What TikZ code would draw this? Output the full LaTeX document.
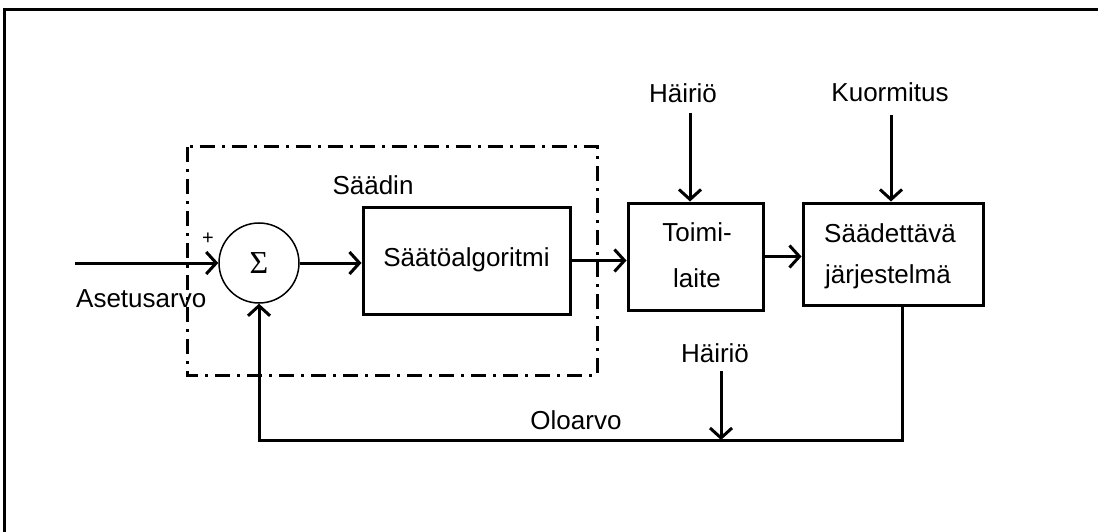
\documentclass[tikz,border=0pt]{standalone}
\usepackage{fontspec}
\setmainfont{Liberation Sans}
\newfontfamily\greekserif{Liberation Serif}
\usetikzlibrary{arrows.meta}
\begin{document}
\begin{tikzpicture}[x=1pt,y=-1pt,
  lbl/.style={font=\fontsize{26}{30}\selectfont, inner sep=0pt},
  blockbox/.style={draw, line width=3pt, inner sep=0pt, align=center, font=\fontsize{26}{30}\selectfont},
  conn/.style={line width=3pt, -{Straight Barb[length=10pt,width=22pt,line width=3pt]}},
  dashdotbox/.style={line width=3pt, dash pattern=on 15pt off 7pt on 3pt off 7pt}
]
\useasboundingbox (0,0) rectangle (1098,532);
% frame
\draw[line width=3pt] (4,532) -- (4,10) -- (1098,10);
% dash-dot controller boundary
\draw[dashdotbox] (187,147) rectangle (597,375);
% blocks
\node[draw, circle, line width=1.5pt, minimum size=80pt, inner sep=0pt, font=\greekserif\fontsize{32}{34}\selectfont] (sum) at (259,263) {Σ};
\node[blockbox, minimum width=207pt, minimum height=107pt] (alg) at (466.5,260.5) {\raisebox{7pt}{Säätöalgoritmi}};
\node[blockbox, minimum width=135pt, minimum height=107pt] (toimi) at (695.5,256.5) {};
\node[lbl] (toimiA) at (697,232) {Toimi-};
\node[lbl] (toimiB) at (697,278) {laite};
\node[blockbox, minimum width=180pt, minimum height=102pt] (sys) at (893,254) {};
\node[lbl] (sysA) at (890,233) {Säädettävä};
\node[lbl] (sysB) at (888,277) {järjestelmä};
% labels
\node[lbl, anchor=west] (aset) at (76,299) {Asetusarvo};
\node[lbl] (saadin) at (373,185) {Säädin};
\node[lbl] (olo) at (576,420) {Oloarvo};
\node[lbl] (h1) at (683,93) {Häiriö};
\node[lbl] (kuorm) at (890,92) {Kuormitus};
\node[lbl] (h2) at (715,353) {Häiriö};
\node[inner sep=0pt, font=\fontsize{20}{22}\selectfont] (plus) at (208,239) {+};
% coordinates
\coordinate (in) at (75,263);
\coordinate (h1a) at (690,113);
\coordinate (ka) at (891,115);
\coordinate (h2a) at (721,371);
\coordinate (fb) at (902,440);
% connectors
\draw[conn] (in) -- (sum.west);
\draw[conn] (sum.east) -- (sum.east -| alg.west);
\draw[conn] (alg.east) -- (alg.east -| toimi.west);
\draw[conn] (toimi.east) -- (toimi.east -| sys.west);
\draw[conn] (h1a) -- (h1a |- toimi.north);
\draw[conn] (ka) -- (ka |- sys.north);
\draw[conn] (fb |- sys.south) -- (fb) -| (sum.south);
\draw[conn] (h2a) -- (h2a |- fb);
\end{tikzpicture}
\end{document}
